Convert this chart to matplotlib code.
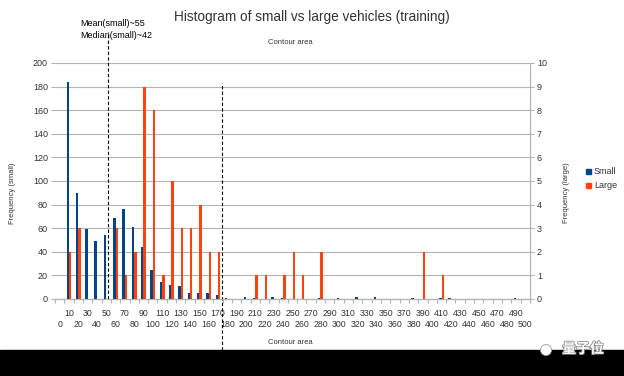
import matplotlib
matplotlib.use("Agg")
from matplotlib import pyplot as plt
from matplotlib.patches import Rectangle, Ellipse
import matplotlib.patheffects as pe
import numpy as np

plt.rcParams['font.family'] = ['Liberation Sans', 'DejaVu Sans']

# Data: contour-area bins and counts
areas = list(range(0, 510, 10))
small = [0, 184, 90, 59, 49, 54, 69, 76, 61, 44,
         25, 14, 12, 11, 5, 5, 5, 3, 1, 0,
         2, 1, 0, 2, 1, 0, 0, 0, 1, 0,
         1, 0, 2, 0, 2, 0, 0, 0, 1, 0,
         0, 0.5, 1, 0, 0, 0, 0, 0, 0, 1, 0]
large = [0, 2, 3, 0, 0, 0, 3, 1, 2, 9,
         8, 1, 5, 3, 3, 4, 2, 2, 0, 0,
         0, 1, 1, 0, 1, 2, 1, 0, 2, 0,
         0, 0, 0, 0, 0, 0, 0, 0, 0, 2,
         0, 1, 0, 0, 0, 0, 0, 0, 0, 0, 0]
mean_line = 52
median_line = 174
blue = "#004586"
orange = "#ff420e"
grey = "#b3b3b3"

fig = plt.figure(figsize=(6.24, 3.76), dpi=100)
ax = fig.add_axes([55/624, 1-299/376, 475/624, 236/376])
ax2 = ax.twinx()

x = np.arange(len(areas))
ax.bar(x - 0.13, small, width=0.26, color=blue, zorder=3)
ax2.bar(x + 0.13, large, width=0.26, color=orange, zorder=3)

ax.set_xlim(-0.5, len(areas) - 0.5)
ax.set_ylim(0, 200)
ax2.set_ylim(0, 10)
ax.set_yticks(range(0, 201, 20))
ax2.set_yticks(range(0, 11, 1))
ax.grid(axis="y", color=grey, lw=0.8, zorder=0)

# staggered category labels: odd bins on the first row, even bins on the second
ax.set_xticks(x[1::2])
ax.set_xticklabels([str(a) for a in areas[1::2]], fontsize=6.3, color="#333333")
ax.set_xticks(x[0::2], minor=True)
ax.set_xticklabels([str(a) for a in areas[0::2]], minor=True, fontsize=6.3, color="#333333")
ax.tick_params(axis="x", which="major", length=0, pad=7)
ax.tick_params(axis="x", which="minor", length=0, pad=15)

# tick marks between categories
sec = ax.secondary_xaxis("bottom")
sec.set_xticks(np.arange(-0.5, len(areas), 1))
sec.set_xticklabels([])
sec.tick_params(length=3, color=grey)
sec.spines["bottom"].set_color(grey)

ax.tick_params(axis="y", length=3, color=grey, labelsize=6.5, labelcolor="#333333", pad=2)
ax2.tick_params(axis="y", length=3, color=grey, labelsize=6.5, labelcolor="#333333", pad=2)

for a in (ax, ax2):
    for s in ("top", "left"):
        a.spines[s].set_visible(False)
    a.spines["bottom"].set_color(grey)
    a.spines["right"].set_color(grey)

# dashed markers
ax.axvline(mean_line / 10, ymin=0, ymax=1.131, color="black", ls=(0, (3, 2)), lw=0.8, clip_on=False, zorder=5)
ax.axvline(median_line / 10, ymin=-0.216, ymax=0.915, color="black", ls=(0, (3, 2)), lw=0.8, clip_on=False, zorder=5)

fig.text(80/624, 1-24/376, "Mean(small)~55", fontsize=6.5, va="center", ha="left")
fig.text(80/624, 1-35/376, "Median(small)~42", fontsize=6.5, va="center", ha="left")

fig.text(312/624, 1-17/376, "Histogram of small vs large vehicles (training)",
         fontsize=9.8, ha="center", va="center", color="#333333")
fig.text(290/624, 1-43/376, "Contour area", fontsize=5.5, ha="center", va="center", color="#333333")
fig.text(290/624, 1-343/376, "Contour area", fontsize=5.5, ha="center", va="center", color="#333333")
fig.text(13/624, 1-193/376, "Frequency (small)", fontsize=5.5, rotation=90, ha="center", va="center", color="#333333")
fig.text(566/624, 1-193/376, "Frequency (large)", fontsize=5.5, rotation=90, ha="center", va="center", color="#333333")

# legend
fig.patches.append(Rectangle((586/624, 1-174/376), 5/624, 5/376, color=blue, transform=fig.transFigure))
fig.patches.append(Rectangle((586/624, 1-188/376), 5/624, 5/376, color=orange, transform=fig.transFigure))
fig.text(594/624, 1-171/376, "Small", fontsize=6.5, va="center", color="#333333")
fig.text(594/624, 1-185/376, "Large", fontsize=6.5, va="center", color="#333333")

# black band with watermark
fig.patches.append(Rectangle((0, 0), 1, 26/376, color="black", transform=fig.transFigure, zorder=0))
fig.patches.append(Ellipse((546/624, 1-350/376), 11/624, 11/376, facecolor="white",
                           edgecolor="#999999", lw=0.6, transform=fig.transFigure, zorder=1))
wm = fig.text(583/624, 1-349/376, "量子位", fontsize=10, color="white", ha="center", va="center",
              family=["Noto Sans CJK SC", "DejaVu Sans"], fontweight="bold", zorder=3)
wm.set_path_effects([pe.withStroke(linewidth=1.2, foreground="#888888")])

fig.savefig("out.png", dpi=100)
